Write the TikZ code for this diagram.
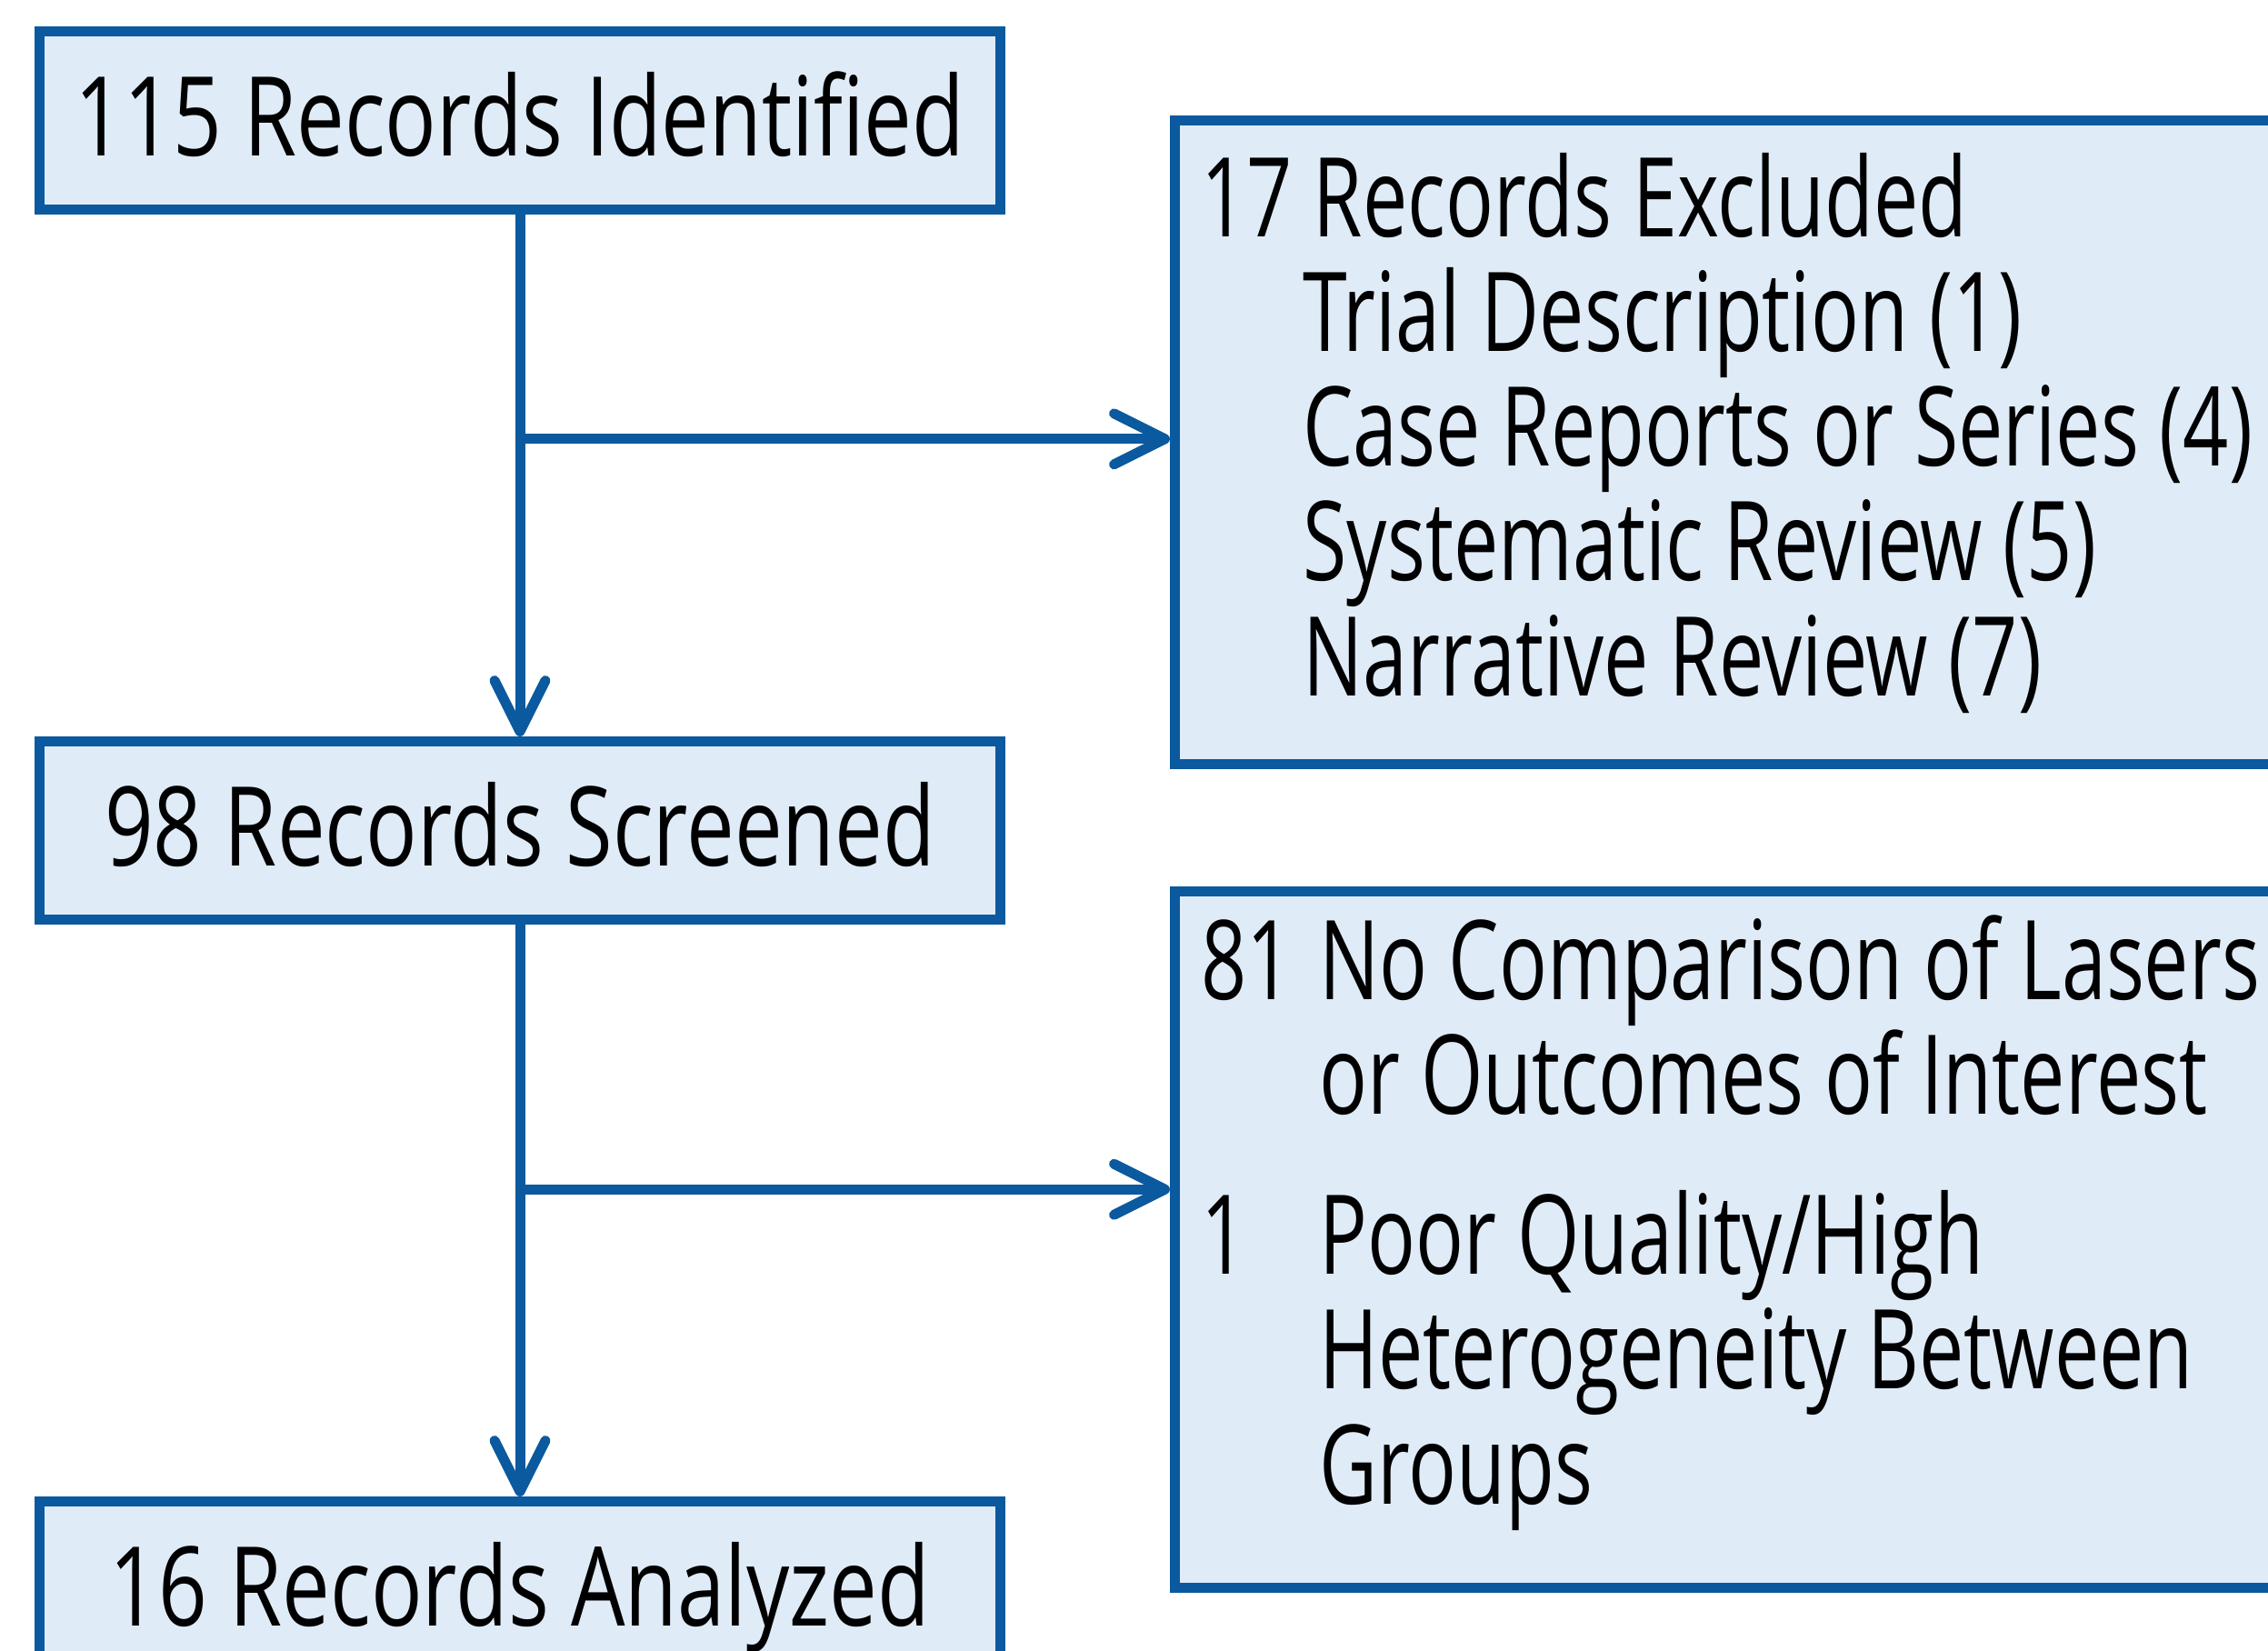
\documentclass[tikz,border=0pt]{standalone}
\usepackage{fontspec}
\setmainfont{Open Sans}[FakeStretch=0.775]
\newfontfamily\listfont{Open Sans}[FakeStretch=0.725]
\usetikzlibrary{arrows.meta,positioning,calc}
\definecolor{flowblue}{RGB}{11,89,158}
\definecolor{flowfill}{RGB}{223,235,247}

\begin{document}
\begin{tikzpicture}[x=1mm, y=1mm, >={Straight Barb[length=5.6mm,width=5.6mm,round]}, line width=1.1mm, font=\fontsize{34.5}{35.9}\selectfont]
\tikzstyle{box}=[rectangle, draw=flowblue, fill=flowfill, text=black, minimum width=105.6mm, minimum height=19.6mm, text height=25pt, text depth=2.8pt, inner sep=0pt]
\tikzstyle{side}=[rectangle, draw=flowblue, fill=flowfill, minimum width=122.7mm]
\tikzstyle{list}=[align=left, inner sep=0pt, text=black, font=\listfont\fontsize{34.5}{35.9}\selectfont]
\tikzstyle{flow}=[draw=flowblue, ->]

\useasboundingbox (0,0) rectangle (249.5,-181.5);

% main column
\node[box] (I) at (57.2,-13.25) {115 Records Identified};
\node[box] (S)[below=57.4mm of I] {98 Records Screened};
\node[box] (A)[below=62.9mm of S] {16 Records Analyzed};

% excluded records, text hangs from the last line's baseline
\node[side, minimum height=70.8mm] (E) at (190.6,-48.6) {};
\node[side, minimum height=76.6mm] (Q)[below=12.9mm of E] {};
\node[list] (Et)[below right=63.85mm and 2.9mm of E.north west, anchor=base west]
  {17 Records Excluded\\
   \hspace*{11.2mm}Trial Description (1)\\
   \hspace*{11.2mm}Case Reports or Series (4)\\
   \hspace*{11.2mm}Systematic Review (5)\\
   \hspace*{11.2mm}Narrative Review (7)};
\node[list] (Qt)[below right=67.95mm and 2.9mm of Q.north west, anchor=base west]
  {\makebox[13mm][l]{81}No Comparison of Lasers\\
   \hspace*{13mm}or Outcomes of Interest\\[5mm]
   \makebox[13mm][l]{1}Poor Quality/High\\
   \hspace*{13mm}Heterogeneity Between\\
   \hspace*{13mm}Groups};

\coordinate (b1) at ($(I.south)!0.43!(S.north)+(-0.55,0)$);
\coordinate (b2) at ($(S.south)!0.463!(A.north)+(-0.55,0)$);
\path[flow]
(I)   edge   (S)
(S)   edge   (A);
\draw[flow] (b1) -- (b1 -| E.west);
\draw[flow] (b2) -- (b2 -| Q.west);
\end{tikzpicture}
\end{document}
